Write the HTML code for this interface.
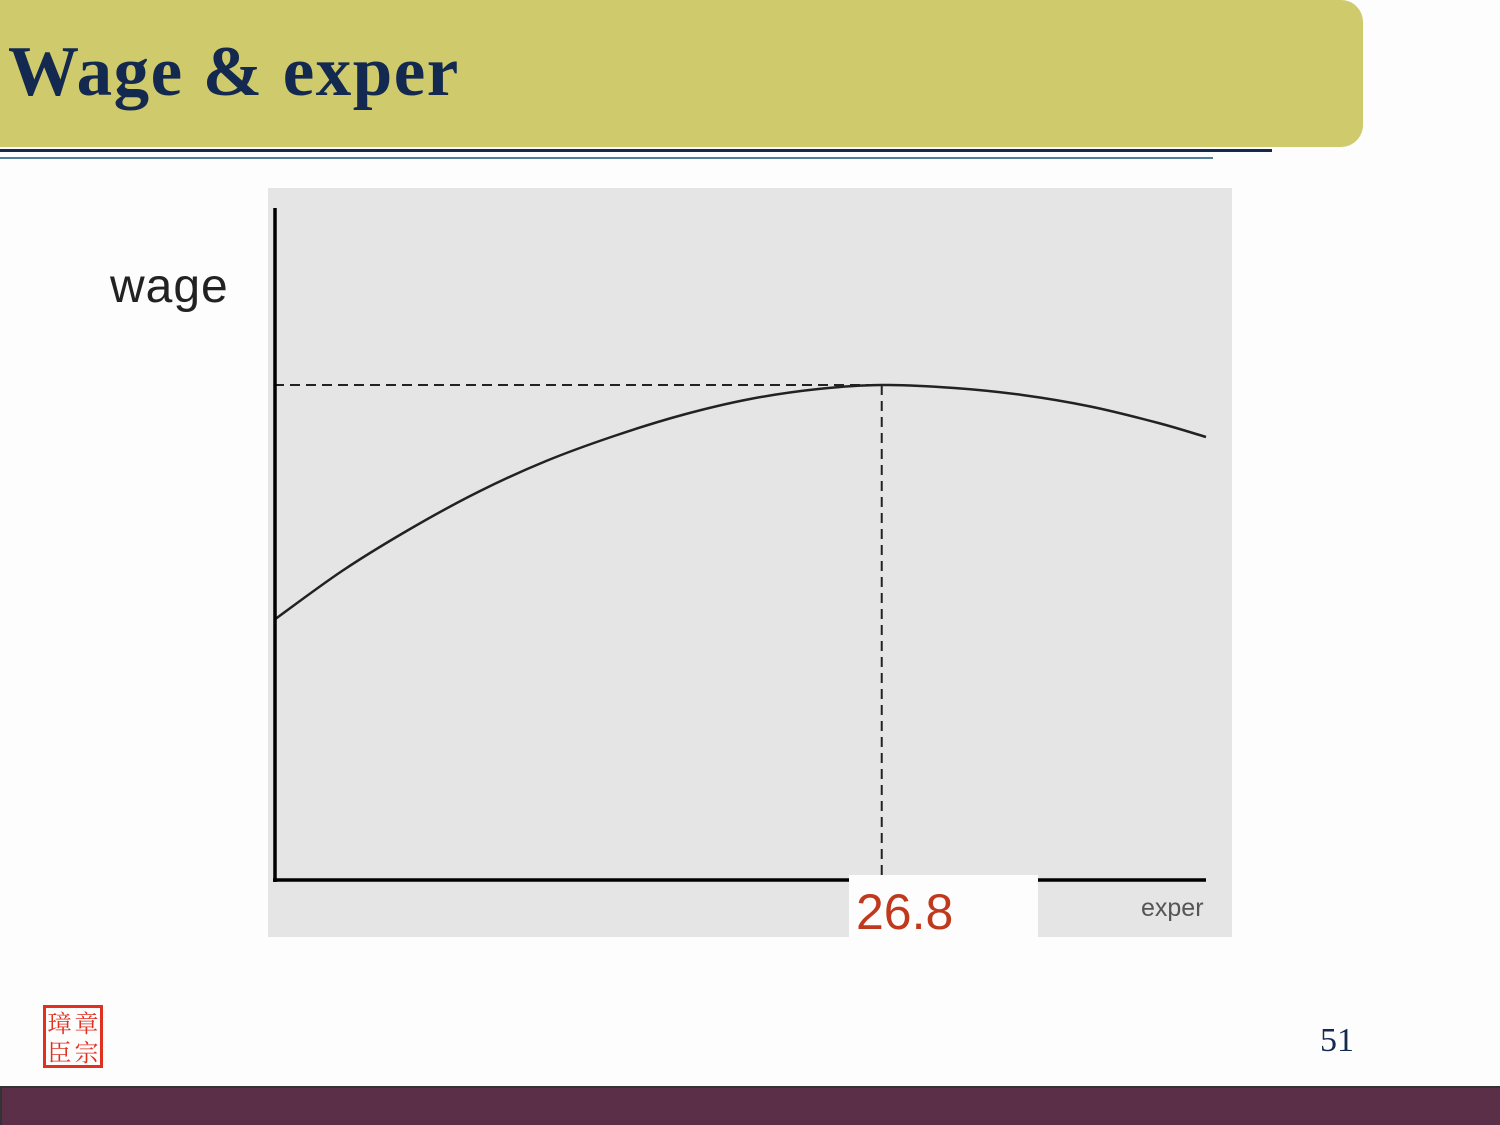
<!DOCTYPE html>
<html><head><meta charset="utf-8"><style>
body{margin:0;width:1500px;height:1125px;background:#fdfdfd;position:relative;overflow:hidden;font-family:"Liberation Sans",sans-serif}
.abs{position:absolute}
</style></head><body>
<div class="abs" style="left:0;top:0;width:1363px;height:147px;background:#cfca6b;border-radius:0 22px 22px 0"></div>
<div class="abs" style="left:8px;top:32px;font:bold 71px 'Liberation Serif',serif;color:#13294f;letter-spacing:1.5px">Wage &amp; exper</div>
<div class="abs" style="left:0;top:149px;width:1272px;height:3px;background:#13294f"></div>
<div class="abs" style="left:0;top:157px;width:1213px;height:2px;background:#4f7f9a"></div>

<svg class="abs" style="left:0;top:0" width="1500" height="1125">
<rect x="268" y="188" width="964" height="749" fill="#e5e5e5"/>
<g id="plot"></g>
<rect x="849" y="875" width="189" height="62" fill="#fdfdfd"/>
<text x="856" y="929" font-size="50" fill="#c0391c" font-family="Liberation Sans">26.8</text>
<text x="1141" y="916" font-size="25" fill="#555" font-family="Liberation Sans">exper</text>
<text x="110" y="302" font-size="48" fill="#222" font-family="Liberation Sans" letter-spacing="1">wage</text>
</svg>

<div class="abs" style="left:43px;top:1005px;width:54px;height:57px;border:3px solid #e03020;color:#e03020;font:24px 'Noto Serif CJK SC',serif;line-height:28px;text-align:center;display:grid;grid-template-columns:1fr 1fr">
<span>璋</span><span>章</span><span>臣</span><span>宗</span></div>
<div class="abs" style="left:1320px;top:1022px;font:34px 'Liberation Serif',serif;color:#13294f">51</div>
<div class="abs" style="left:0;top:1086px;width:1500px;height:39px;background:#5c2f48;border-top:2px solid #333;border-left:2px solid #333;box-sizing:border-box"></div>

<script>
const experVals=[0,3,6,9,12,15,18,21,24,26.8,30,33,36,39,41.1];
const wageVals=[26.0,30.9,35.1,38.8,41.9,44.4,46.5,48.1,49.1,49.5,49.2,48.5,47.35,45.7,44.3];
const peakExper=26.8;
const peakWage=49.5;
const xMax=41.1, yMax=67.2;
function sx(v){return 274+v*(1206-274)/xMax;}
function sy(v){return 880-v*(880-208)/yMax;}
const NS="http://www.w3.org/2000/svg";
const g=document.getElementById('plot');
function mk(t,a){const e=document.createElementNS(NS,t);for(const k in a)e.setAttribute(k,a[k]);g.appendChild(e);return e;}
let pts=experVals.map((e,i)=>[sx(e),sy(wageVals[i])]);
let d="M"+pts[0][0]+","+pts[0][1];
for(let i=0;i<pts.length-1;i++){
 const p0=pts[Math.max(0,i-1)],p1=pts[i],p2=pts[i+1],p3=pts[Math.min(pts.length-1,i+2)];
 d+=` C${p1[0]+(p2[0]-p0[0])/6},${p1[1]+(p2[1]-p0[1])/6} ${p2[0]-(p3[0]-p1[0])/6},${p2[1]-(p3[1]-p1[1])/6} ${p2[0]},${p2[1]}`;
}
const c=mk('path',{d:d,fill:'none',stroke:'#222','stroke-width':2.5});


const h=mk('line',{x1:sx(0),y1:sy(peakWage),x2:sx(peakExper),y2:sy(peakWage),stroke:'#222','stroke-width':2,'stroke-dasharray':'10,6'});


const v=mk('line',{x1:sx(peakExper),y1:sy(peakWage),x2:sx(peakExper),y2:876,stroke:'#222','stroke-width':2,'stroke-dasharray':'10,6'});


const ya=mk('line',{x1:275,y1:208,x2:275,y2:882,stroke:'#000','stroke-width':3.5});


const xa=mk('line',{x1:273,y1:880,x2:1206,y2:880,stroke:'#000','stroke-width':3.5});


</script>
</body></html>
